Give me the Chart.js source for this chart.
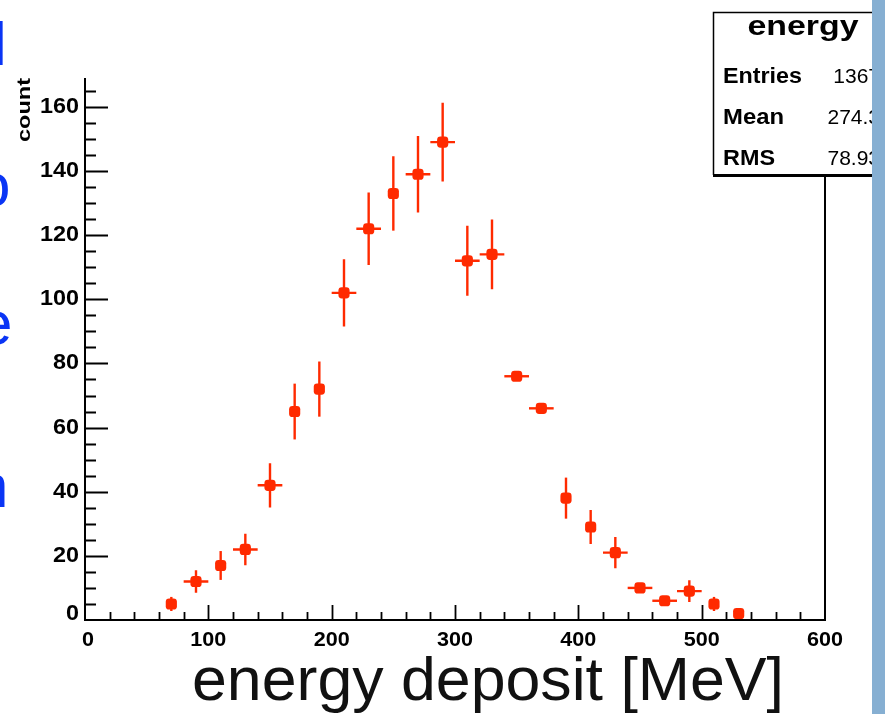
<!DOCTYPE html>
<html>
<head>
<meta charset="utf-8">
<script src="https://cdn.jsdelivr.net/npm/chart.js@4.4.1/dist/chart.umd.min.js"></script>
<style>
  html, body { margin: 0; padding: 0; background: #fff; }
  canvas { display: block; }
</style>
</head>
<body>
<canvas id="chart" width="885" height="714"></canvas>
<script>
// histogram "energy": bin centres (MeV), counts and error bars
const binCenters = [70, 90, 110, 130, 150, 170, 190, 210, 230, 250, 270, 290, 310, 330, 350, 370, 390, 410, 430, 450, 470, 490, 510, 530];
const counts = [5, 12, 17, 22, 42, 65, 72, 102, 122, 133, 139, 149, 112, 114, 76, 66, 38, 29, 21, 10, 6, 9, 5, 2];
const yErrors = [2.2, 3.5, 4.5, 4.9, 6.9, 8.7, 8.6, 10.5, 11.3, 11.6, 11.9, 12.3, 10.9, 10.9, 0, 0, 6.4, 5.3, 4.9, 0, 0, 3.4, 2.2, 0];
const xErrors = [0, 10, 0, 10, 10, 0, 0, 10, 10, 0, 10, 10, 10, 10, 10, 10, 0, 0, 10, 10, 10, 10, 0, 0];

const xTicks = [0, 100, 200, 300, 400, 500, 600];
const yTicks = [0, 20, 40, 60, 80, 100, 120, 140, 160];

const statsTitle = 'energy';
const statsNames = ['Entries', 'Mean', 'RMS'];
const statsValues = ['1367', '274.3', '78.93'];

const RED = '#ff2a00';
const FONT = '"Liberation Sans", Arial, Helvetica, sans-serif';

// text squeezed/stretched to a given width, like the scanned original
const stretchText = (ctx, text, x, y, font, width, align) => {
    ctx.save();
    ctx.font = font;
    const w = ctx.measureText(text).width;
    const s = width / w;
    let left = x;
    if (align === 'center') left = x - width / 2;
    if (align === 'right') left = x - width;
    ctx.translate(left, y);
    ctx.scale(s, 1);
    ctx.textAlign = 'left';
    ctx.fillText(text, 0, 0);
    ctx.restore();
};

const errorBars = {
    id: 'errorBars',
    beforeDatasetsDraw(chart) {
        const ctx = chart.ctx;
        const xs = chart.scales.x, ys = chart.scales.y;
        ctx.save();
        ctx.strokeStyle = RED;
        ctx.lineWidth = 2.4;
        binCenters.forEach((c, i) => {
            const px = xs.getPixelForValue(c);
            const py = ys.getPixelForValue(counts[i]);
            ctx.beginPath();
            if (yErrors[i] > 0) {
                ctx.moveTo(px, ys.getPixelForValue(counts[i] - yErrors[i]));
                ctx.lineTo(px, ys.getPixelForValue(counts[i] + yErrors[i]));
            }
            if (xErrors[i] > 0) {
                ctx.moveTo(xs.getPixelForValue(c - xErrors[i]), py);
                ctx.lineTo(xs.getPixelForValue(c + xErrors[i]), py);
            }
            ctx.stroke();
        });
        ctx.restore();
    }
};

const decor = {
    id: 'decor',
    beforeDraw(chart) {
        const ctx = chart.ctx;
        ctx.save();
        ctx.fillStyle = '#fff';
        ctx.fillRect(0, 0, chart.width, chart.height);

        // cut-off slide text on the left edge
        ctx.fillStyle = '#0a35f5';
        ctx.font = '62px ' + FONT;
        [['l', 3, 65], ['o', 8, 206], ['e', 10, 344], ['n', 5, 507]].forEach(([t, right, base]) => {
            const m = ctx.measureText(t);
            ctx.fillText(t, right - m.actualBoundingBoxRight, base);
        });

        // axis title
        ctx.fillStyle = '#111';
        stretchText(ctx, 'energy deposit [MeV]', 192, 700, '62px ' + FONT, 592, 'left');
        ctx.restore();
    },
    afterDraw(chart) {
        const ctx = chart.ctx;
        const xs = chart.scales.x, ys = chart.scales.y;
        const a = chart.chartArea;
        ctx.save();
        ctx.strokeStyle = '#000';
        ctx.lineWidth = 2;

        // frame: left axis, bottom axis, right edge
        ctx.beginPath();
        ctx.moveTo(a.left, a.top);
        ctx.lineTo(a.left, a.bottom);
        ctx.lineTo(a.right, a.bottom);
        ctx.lineTo(a.right, a.top);
        ctx.stroke();

        // y ticks, drawn inside
        ctx.lineWidth = 1.8;
        ctx.beginPath();
        for (let v = 5; v <= ys.max; v += 5) {
            const py = Math.round(ys.getPixelForValue(v)) + 0.5;
            const len = v % 20 === 0 ? 23 : 11;
            ctx.moveTo(a.left, py);
            ctx.lineTo(a.left + len, py);
        }
        // x ticks, drawn inside
        for (let v = 20; v < 600; v += 20) {
            const px = Math.round(xs.getPixelForValue(v)) + 0.5;
            const len = v % 100 === 0 ? 15 : 8;
            ctx.moveTo(px, a.bottom);
            ctx.lineTo(px, a.bottom - len);
        }
        ctx.stroke();

        // tick labels
        ctx.fillStyle = '#000';
        ctx.textBaseline = 'middle';
        yTicks.forEach(v => {
            const t = String(v);
            stretchText(ctx, t, a.left - 6, ys.getPixelForValue(v) - (v === 0 ? 6 : 0), 'bold 22px ' + FONT, t.length * 13, 'right');
        });
        ctx.textBaseline = 'alphabetic';
        xTicks.forEach(v => {
            const t = String(v);
            stretchText(ctx, t, xs.getPixelForValue(v) + (v === 0 ? 3 : 0), a.bottom + 26, 'bold 21px ' + FONT, t.length * 12, 'center');
        });

        // y axis title
        ctx.save();
        ctx.translate(30, 110);
        ctx.rotate(-Math.PI / 2);
        stretchText(ctx, 'count', 0, 0, 'bold 18px ' + FONT, 64, 'center');
        ctx.restore();

        // stats box
        ctx.fillStyle = '#fff';
        ctx.fillRect(713, 12, 172, 164);
        ctx.strokeStyle = '#000';
        ctx.lineWidth = 1.5;
        ctx.beginPath();
        ctx.moveTo(890, 12.5);
        ctx.lineTo(713.5, 12.5);
        ctx.lineTo(713.5, 175);
        ctx.stroke();
        ctx.lineWidth = 3;
        ctx.beginPath();
        ctx.moveTo(713, 175.5);
        ctx.lineTo(890, 175.5);
        ctx.stroke();

        ctx.fillStyle = '#000';
        stretchText(ctx, statsTitle, 803, 35, 'bold 27px ' + FONT, 111, 'center');
        const bases = [83, 124, 165];
        const widths = [79, 61, 52];
        statsNames.forEach((n, i) => {
            stretchText(ctx, n, 723, bases[i], 'bold 22px ' + FONT, widths[i], 'left');
            ctx.font = '21px ' + FONT;
            ctx.textAlign = 'right';
            ctx.fillText(statsValues[i], 880, bases[i]);
            ctx.textAlign = 'left';
        });

        // slide background strip on the right
        ctx.fillStyle = '#86afd2';
        ctx.fillRect(872, 0, 13, chart.height);
        ctx.restore();
    }
};

const ctx = document.getElementById('chart');
new Chart(ctx, {
    type: 'scatter',
    data: {
        datasets: [{
            label: statsTitle,
            data: binCenters.map((c, i) => ({ x: c, y: counts[i] })),
            backgroundColor: RED,
            borderColor: RED,
            pointStyle: 'rectRounded',
            pointRadius: 6.5,
            pointBorderWidth: 0
        }]
    },
    options: {
        responsive: false,
        animation: false,
        layout: {
            padding: { left: 85, top: 78, right: 60, bottom: 94 }
        },
        scales: {
            x: { type: 'linear', min: 0, max: 600, display: false },
            y: { type: 'linear', min: 0, max: 169, display: false }
        },
        plugins: {
            legend: { display: false },
            tooltip: { enabled: false }
        }
    },
    plugins: [errorBars, decor]
});
</script>
</body>
</html>
